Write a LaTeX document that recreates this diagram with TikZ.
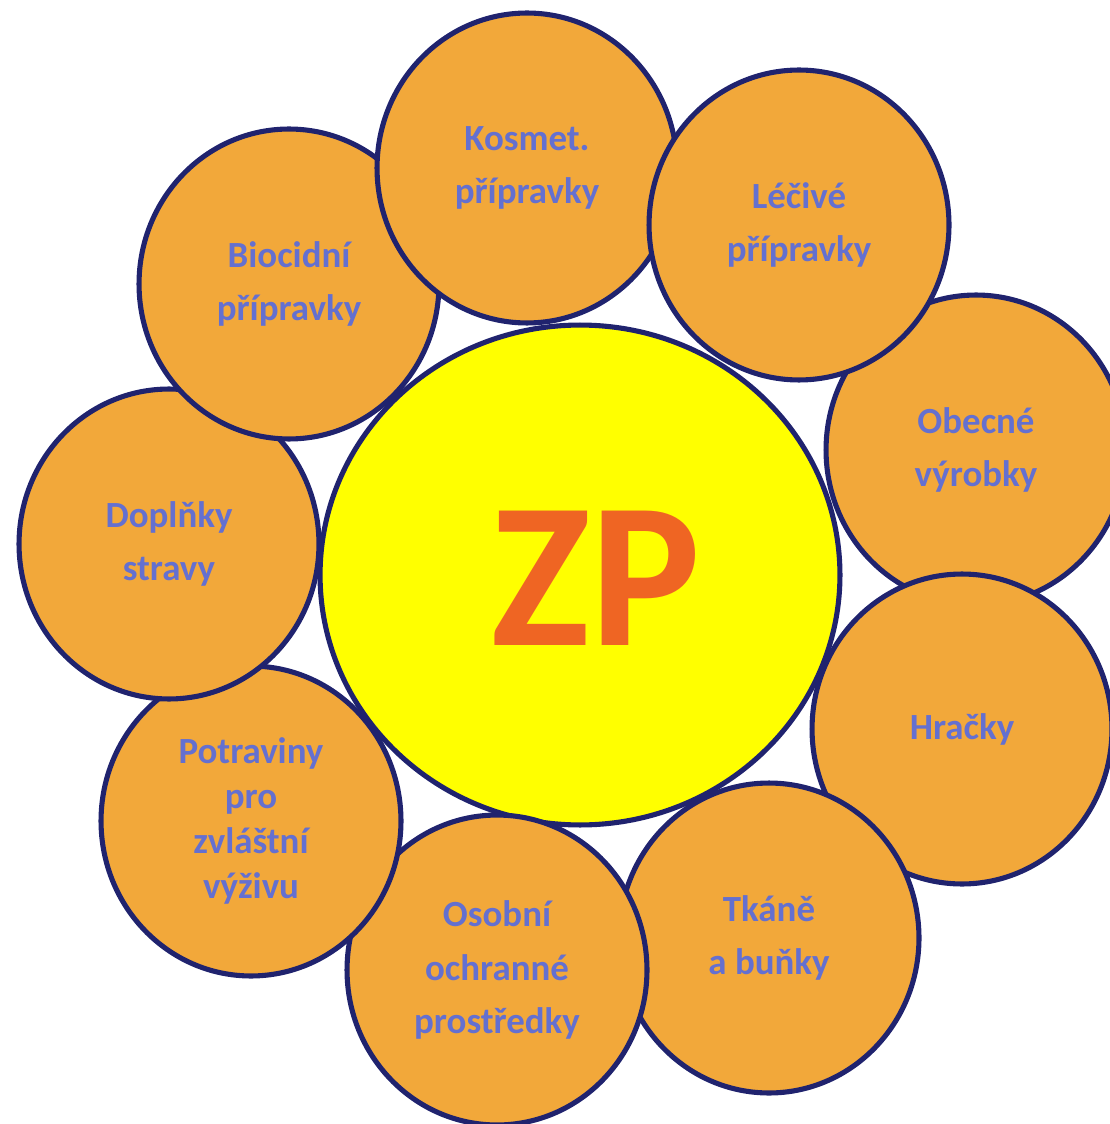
\documentclass[tikz,border=0pt]{standalone}
\usepackage{fontspec}
\setmainfont{Carlito}
\usetikzlibrary{shapes.geometric}
\definecolor{petalfill}{RGB}{242,168,58}
\definecolor{rimblue}{RGB}{32,35,110}
\definecolor{petaltext}{RGB}{100,112,208}
\definecolor{zporange}{RGB}{239,101,35}
\definecolor{zpyellow}{RGB}{255,255,0}

\begin{document}
\begin{tikzpicture}[x=0.02cm,y=-0.02cm,
	petal/.style={draw=rimblue,line width=2.9pt,ellipse,fill=petalfill,inner sep=0pt,
		minimum width=6cm,minimum height=6.2cm,align=center,text=petaltext,
		font=\fontsize{21}{30.6}\selectfont\bfseries},
	hub/.style={draw=rimblue,line width=2.9pt,ellipse,fill=zpyellow,inner sep=0pt,
		minimum width=10.4cm,minimum height=10cm}]
	\useasboundingbox (0,0) rectangle (1109,1124);
			\node[hub] (zp)at(580,575) {};
			\node[text=zporange,font=\fontsize{118}{118}\selectfont\bfseries] (zptext)at(596,578) {ZP};
			\node[petal] (obecne)at(976,450) {Obecné\\výrobky};
			\node[petal] (hracky)at(962,729) {Hračky};
			\node[petal] (tkane)at(769,938) {Tkáně\\a buňky};
			\node[petal] (osobni)at(497,970) {Osobní\\ochranné\\prostředky};
			\node[petal,font=\fontsize{21}{25.5}\selectfont\bfseries] (potraviny)at(251,821) {Potraviny\\pro\\zvláštní\\výživu};
			\node[petal] (doplnky)at(169,544) {Doplňky\\stravy};
			\node[petal] (biocidni)at(289,284) {Biocidní\\přípravky};
			\node[petal] (kosmet)at(527,168) {Kosmet.\\přípravky};
			\node[petal] (lecive)at(799,225) {Léčivé\\přípravky};
\end{tikzpicture}
\end{document}
